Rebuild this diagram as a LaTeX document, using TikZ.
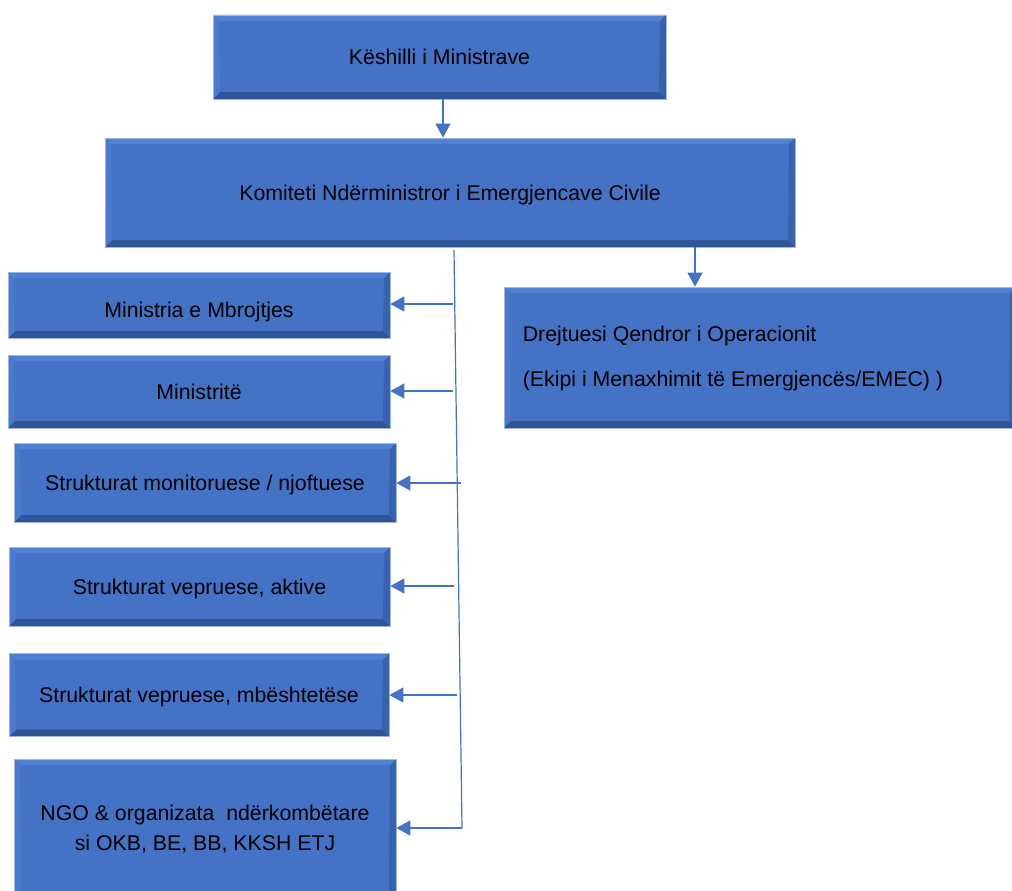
\documentclass[tikz,border=0pt]{standalone}
\usepackage{fontspec}
\setmainfont{Liberation Sans}
\usetikzlibrary{arrows.meta}

\definecolor{boxfill}{HTML}{4472C4}
\definecolor{bvtop}{HTML}{4E80D6}
\definecolor{bvbot}{HTML}{2F5597}
\definecolor{bvleft}{HTML}{4A79CE}
\definecolor{bvright}{HTML}{3962AE}
\definecolor{boxrim}{HTML}{9DB6E4}
\definecolor{linkcol}{HTML}{4472C4}

\tikzset{
  bevelbox/.style={
    rectangle, inner sep=0pt, fill=boxfill, draw=boxrim, line width=0.7pt,
    font=\fontsize{21.3}{25}\selectfont, align=center,
    path picture={
      \fill[bvtop] (path picture bounding box.north west) -- (path picture bounding box.north east)
        -- ([shift={(-6pt,-6pt)}]path picture bounding box.north east)
        -- ([shift={(6pt,-6pt)}]path picture bounding box.north west) -- cycle;
      \fill[bvbot] (path picture bounding box.south west) -- (path picture bounding box.south east)
        -- ([shift={(-7pt,7pt)}]path picture bounding box.south east)
        -- ([shift={(7pt,7pt)}]path picture bounding box.south west) -- cycle;
      \fill[bvleft] (path picture bounding box.north west) -- ([shift={(6pt,-6pt)}]path picture bounding box.north west)
        -- ([shift={(7pt,7pt)}]path picture bounding box.south west)
        -- (path picture bounding box.south west) -- cycle;
      \fill[bvright] (path picture bounding box.north east) -- ([shift={(-6pt,-6pt)}]path picture bounding box.north east)
        -- ([shift={(-7pt,7pt)}]path picture bounding box.south east)
        -- (path picture bounding box.south east) -- cycle;
    }},
  oneline/.style={text height=15.5pt, text depth=0pt},
  boxtext/.style={inner sep=0pt, font=\fontsize{21.3}{25}\selectfont},
  link/.style={draw=linkcol, line width=1.4pt,
    -{Triangle[length=14pt,width=15pt]}},
  trunk/.style={draw=linkcol, line width=1.2pt}
}

\begin{document}
\begin{tikzpicture}[x=1pt,y=-1pt]
  \useasboundingbox (0,0) rectangle (1012,891);

  % upper chain
  \node[bevelbox, oneline, minimum width=453pt, minimum height=84pt] (kesh) at (439.5,57) {Këshilli i Ministrave};
  \node[bevelbox, oneline, minimum width=690pt, minimum height=109pt] (komit) at (450,192.5) {Komiteti Ndërministror i Emergjencave Civile};
  \node[bevelbox, minimum width=512pt, minimum height=141pt] (drejt) at (760,357.5) {};
  \node[boxtext, anchor=west, align=left, font=\fontsize{21.3}{45}\selectfont] (drejttxt) at ([xshift=19pt, yshift=-1pt]drejt.west)
    {Drejtuesi Qendror i Operacionit\\(Ekipi i Menaxhimit të Emergjencës/EMEC) )};

  % left column
  \node[bevelbox, text height=25pt, text depth=0pt, minimum width=382pt, minimum height=66pt] (mbro) at (199,305) {Ministria e Mbrojtjes};
  \node[bevelbox, oneline, minimum width=382pt, minimum height=73pt] (minis) at (199,391.5) {Ministritë};
  \node[bevelbox, oneline, minimum width=382pt, minimum height=79pt] (monit) at (205,482.5) {Strukturat monitoruese / njoftuese};
  \node[bevelbox, oneline, minimum width=381pt, minimum height=79pt] (aktiv) at (199.5,586.5) {Strukturat vepruese, aktive};
  \node[bevelbox, oneline, minimum width=380pt, minimum height=83pt] (mbesh) at (199,695) {Strukturat vepruese, mbështetëse};
  \node[bevelbox, minimum width=382pt, minimum height=140pt, font=\fontsize{21.3}{30}\selectfont] (ngo) at (205,829)
    {NGO \& organizata\ \ ndërkombëtare\\si OKB, BE, BB, KKSH ETJ};

  % distribution trunk
  \coordinate (ttop) at (454,250);
  \coordinate (tbot) at (462,828);
  \coordinate (tmbro) at (453,304);
  \coordinate (tminis) at (453,391);
  \coordinate (tmonit) at (461,483);
  \coordinate (taktiv) at (454,586);
  \coordinate (tmbesh) at (457,695);
  \coordinate (komitR) at (695,247);

  \draw[trunk] (ttop) -- (tbot);

  % connectors
  \draw[link] (kesh.south -| 443,0) -- (komit.north -| 443,0);
  \draw[link] (komitR) -- (drejt.north -| komitR);
  \draw[link] (tmbro) -- (mbro.east |- tmbro);
  \draw[link] (tminis) -- (minis.east |- tminis);
  \draw[link] (tmonit) -- (monit.east |- tmonit);
  \draw[link] (taktiv) -- (aktiv.east |- taktiv);
  \draw[link] (tmbesh) -- (mbesh.east |- tmbesh);
  \draw[link] (tbot) -- (ngo.east |- tbot);
\end{tikzpicture}
\end{document}
